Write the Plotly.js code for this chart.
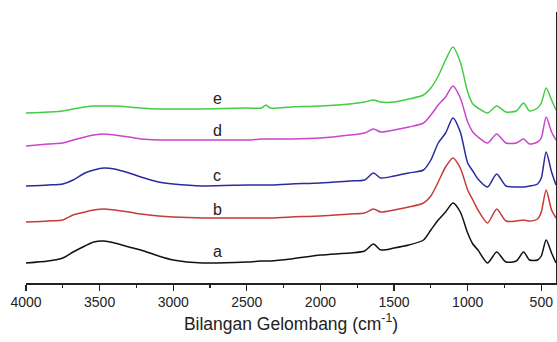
<!DOCTYPE html>
<html>
<head>
<meta charset="utf-8">
<script src="https://cdn.plot.ly/plotly-3.0.1.min.js"></script>
<style>html,body{margin:0;padding:0;background:#fff;}#chart{width:557px;height:342px;}</style>
</head>
<body>
<div id="chart"></div>
<script>
// Wavenumbers (cm^-1)
const wavenumber = [4000, 3850, 3750, 3680, 3600, 3540, 3470, 3400, 3300, 3220, 3100, 3000, 2800, 2500, 2400, 2370, 2340, 2200, 2000, 1800, 1700, 1640, 1590, 1500, 1400, 1300, 1250, 1200, 1150, 1100, 1050, 1000, 965, 930, 865, 803, 740, 670, 620, 580, 525, 500, 467, 430, 400];

// Offset spectra (arbitrary units)
const seriesA = [20, 22, 25, 31, 37, 41, 42, 40, 36, 33, 27, 23, 20, 21, 22, 22, 22, 24, 28, 30, 32, 39, 33, 35, 38, 43, 53, 63, 71, 80, 71, 50, 39, 33, 20, 31, 21, 22, 31, 23, 23, 27, 43, 30, 20];
const seriesB = [61, 62, 63, 68, 71, 73, 74, 73, 71, 69, 67, 66, 65, 65, 65, 65, 65, 66, 67, 69, 70, 74, 71, 73, 76, 80, 87, 101, 116, 125, 115, 93, 83, 73, 60, 74, 62, 62, 63, 62, 64, 71, 93, 73, 65];
const seriesC = [97, 98, 99, 103, 110, 113, 115, 114, 110, 106, 101, 99, 97, 98, 98, 98, 98, 99, 100, 102, 103, 110, 105, 107, 110, 113, 123, 140, 150, 165, 151, 120, 112, 104, 96, 109, 97, 96, 96, 97, 99, 105, 131, 111, 98];
const seriesD = [137, 139, 140, 143, 146, 148, 149, 148, 146, 144, 143, 143, 143, 143, 144, 144, 144, 144, 145, 148, 150, 154, 151, 153, 156, 160, 168, 178, 186, 197, 185, 161, 151, 146, 140, 149, 140, 140, 144, 139, 141, 145, 166, 151, 143];
const seriesE = [170, 171, 172, 174, 176, 177, 177, 177, 176, 175, 174, 174, 174, 175, 175, 178, 175, 176, 177, 179, 181, 183, 181, 181, 184, 188, 195, 207, 223, 236, 221, 191, 179, 175, 170, 177, 171, 172, 180, 172, 175, 180, 195, 183, 173];

const labels = ['a', 'b', 'c', 'd', 'e'];
const labelY = [32, 74, 108, 153, 185];
const colors = ['#111111', '#c83a3a', '#2b2ba0', '#cc44cc', '#44cc44'];
const seriesList = [seriesA, seriesB, seriesC, seriesD, seriesE];

const traces = seriesList.map((ys, i) => ({
  x: wavenumber,
  y: ys,
  type: 'scatter',
  mode: 'lines',
  name: labels[i],
  line: {color: colors[i], width: 1.5, shape: 'spline', smoothing: 0.7},
  hoverinfo: 'skip'
}));

const annotations = labels.map((t, i) => ({
  x: 2700, y: labelY[i], xref: 'x', yref: 'y',
  text: t, showarrow: false,
  font: {family: 'Liberation Sans, Arial, sans-serif', size: 16, color: '#222'}
}));

const layout = {
  width: 557, height: 342,
  margin: {l: 26, r: 1, t: 12, b: 59},
  paper_bgcolor: '#fff', plot_bgcolor: '#fff',
  showlegend: false,
  font: {family: 'Liberation Sans, Arial, sans-serif', color: '#222'},
  xaxis: {
    range: [4000, 400],
    tickmode: 'linear', tick0: 500, dtick: 500,
    ticks: 'outside', ticklen: 6, tickwidth: 1.2, tickcolor: '#222',
    minor: {ticks: 'outside', ticklen: 3, tickwidth: 1.2, tickcolor: '#222', dtick: 250, tick0: 250},
    showgrid: false, zeroline: false,
    showline: true, linecolor: '#222', linewidth: 1.5,
    tickfont: {size: 14, color: '#222'},
    title: {text: 'Bilangan Gelombang (cm<sup>-1</sup>)', font: {size: 17.5, color: '#222'}, standoff: 8}
  },
  yaxis: {
    range: [0, 271],
    side: 'right',
    showline: true, linecolor: '#222', linewidth: 1.5,
    showticklabels: false, ticks: '',
    showgrid: false, zeroline: false
  },
  annotations: annotations
};

Plotly.newPlot('chart', traces, layout, {staticPlot: true, displayModeBar: false});
</script>
</body>
</html>
